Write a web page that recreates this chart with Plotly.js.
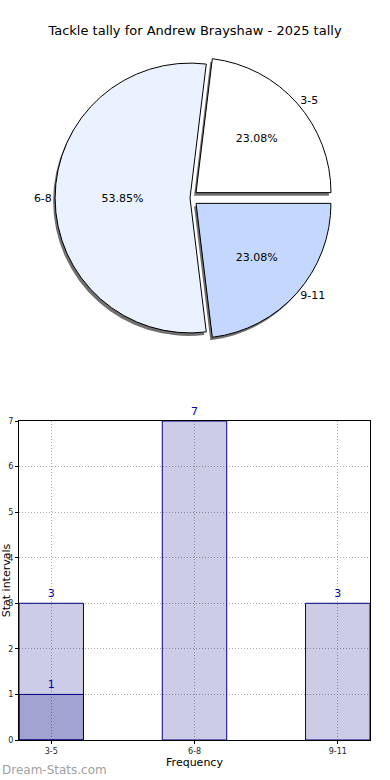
<!DOCTYPE html>
<html>
<head>
<meta charset="utf-8">
<script src="https://cdn.plot.ly/plotly-3.0.1.min.js"></script>
<style>html,body{margin:0;padding:0;background:#fff;}#chart{width:390px;height:780px;}</style>
</head>
<body>
<div id="chart"></div>
<script>
// ---- data ----
const pieLabels = ["3-5", "6-8", "9-11"];
const pieValues = [3, 7, 3];
const pieColors = ["#ffffff", "#ebf2ff", "#c4d8ff"];
const piePull = [0.06, 0, 0.06];

const barCategories = ["3-5", "6-8", "9-11"];
const barValues = [3, 7, 3];
const overlayCategories = ["3-5"];
const overlayValues = [1];

const titleText = "Tackle tally for Andrew Brayshaw - 2025 tally";

// ---- geometry (paper fractions) ----
const W = 390, H = 780;
const pieCx = 190, pieCy = 198, pieHalf = 143;
function dom(cx, cy, half, dx, dy) {
  return {
    x: [(cx - half + dx) / W, (cx + half + dx) / W],
    y: [1 - (cy + half + dy) / H, 1 - (cy - half + dy) / H]
  };
}
const fontFam = "DejaVu Sans, sans-serif";
const firstShare = pieValues[0] / pieValues.reduce((a, b) => a + b, 0);
const rot = 90 - 360 * firstShare;

const common = {
  type: "pie", labels: pieLabels, values: pieValues, sort: false,
  direction: "counterclockwise", rotation: rot, pull: piePull,
  showlegend: false, hoverinfo: "label+percent+value"
};

const shadow = Object.assign({}, common, {
  domain: dom(pieCx, pieCy, pieHalf, -2, 3),
  marker: {colors: ["#707070", "#707070", "#707070"], line: {width: 0}},
  textinfo: "none", hoverinfo: "skip"
});
const pieMain = Object.assign({}, common, {
  domain: dom(pieCx, pieCy, pieHalf, 0, 0),
  marker: {colors: pieColors, line: {color: "#000", width: 1}},
  texttemplate: "%{percent:.2%}", textposition: "inside",
  insidetextorientation: "horizontal",
  textfont: {family: fontFam, size: 11, color: "#000"}
});
const pieLabelsTrace = Object.assign({}, common, {
  domain: dom(pieCx, pieCy, pieHalf, 0, 0),
  marker: {colors: ["rgba(0,0,0,0)", "rgba(0,0,0,0)", "rgba(0,0,0,0)"], line: {width: 0}},
  texttemplate: "%{label}", textposition: "outside",
  textfont: {family: fontFam, size: 11, color: "#000"},
  hoverinfo: "skip"
});

const barFill = "rgba(0,0,128,0.2)";
const barMain = {
  type: "bar", x: barCategories, y: barValues, width: 0.45,
  marker: {color: barFill, line: {color: "#000080", width: 1}},
  text: barValues.map(String), textposition: "outside", cliponaxis: false,
  textfont: {family: fontFam, size: 11, color: "#0000aa"},
  xaxis: "x", yaxis: "y", showlegend: false
};
const barOver = {
  type: "bar", x: overlayCategories, y: overlayValues, width: 0.45,
  marker: {color: barFill, line: {color: "#000080", width: 1}},
  text: overlayValues.map(String), textposition: "outside", cliponaxis: false,
  textfont: {family: fontFam, size: 11, color: "#0000aa"},
  xaxis: "x", yaxis: "y", showlegend: false
};

const gridDash = "1px,2px";
const layout = {
  width: W, height: H,
  margin: {l: 0, r: 0, t: 0, b: 0},
  paper_bgcolor: "#fff", plot_bgcolor: "#fff",
  font: {family: fontFam, color: "#000"},
  title: {text: titleText, font: {family: fontFam, size: 13, color: "#000"},
          x: 0.5, xanchor: "center", y: 1 - 30 / H, yanchor: "middle"},
  barmode: "overlay",
  xaxis: {
    domain: [19 / W, 370 / W], range: [-0.225, 2.225], type: "category",
    showline: true, linecolor: "#000", linewidth: 1, mirror: true,
    showgrid: true, gridcolor: "#aaaaaa", griddash: gridDash, gridwidth: 1,
    ticks: "outside", ticklen: 3, tickcolor: "#000",
    tickfont: {family: fontFam, size: 8, color: "#222"},
    title: {text: "Frequency", font: {family: fontFam, size: 11, color: "#000"}, standoff: 2},
    automargin: false, fixedrange: true
  },
  yaxis: {
    domain: [(H - 740) / H, (H - 421) / H], range: [0, 7],
    dtick: 1, tick0: 0,
    showline: true, linecolor: "#000", linewidth: 1, mirror: true,
    showgrid: true, gridcolor: "#aaaaaa", griddash: gridDash, gridwidth: 1,
    zeroline: false,
    ticks: "outside", ticklen: 3, tickcolor: "#000",
    tickfont: {family: fontFam, size: 8, color: "#222"},
    title: {text: "Stat intervals", font: {family: fontFam, size: 11, color: "#000"}, standoff: 0},
    automargin: false, fixedrange: true
  },
  annotations: [{
    text: "Dream-Stats.com", xref: "paper", yref: "paper",
    x: 0, y: 1 - 770 / H, xanchor: "left", yanchor: "middle", showarrow: false,
    font: {family: "DejaVu Sans, sans-serif", size: 12, color: "#a0a0a0"}
  }]
};

Plotly.newPlot("chart", [shadow, pieMain, pieLabelsTrace, barMain, barOver], layout,
  {displayModeBar: false, staticPlot: false});
</script>
</body>
</html>
